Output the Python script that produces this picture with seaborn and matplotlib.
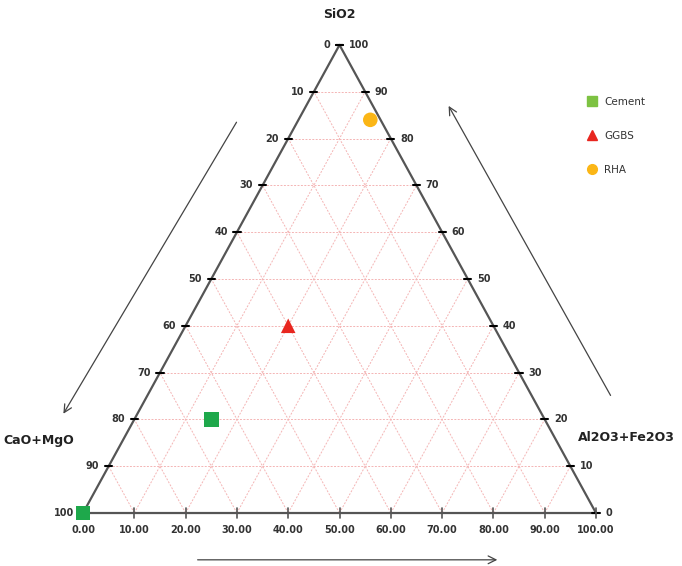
import numpy as np
import pandas as pd
import matplotlib
matplotlib.use("Agg")
import matplotlib.pyplot as plt
from matplotlib.lines import Line2D
import seaborn as sns

# ternary composition (%)
materials = ["Cement", "Cement", "GGBS", "RHA"]
sio2 = [0, 20, 40, 84]
al_fe = [0, 15, 20, 14]
cao_mgo = [100, 65, 40, 2]

steps = list(range(0, 101, 10))
left_labels = [str(100 - v) for v in steps]      # CaO+MgO, along left edge by SiO2 level
right_labels = [str(v) for v in steps]           # SiO2, along right edge
bottom_labels = [f"{v:.2f}" for v in steps]      # Al2O3+Fe2O3

colors = {"Cement": "#1ea84b", "GGBS": "#e8261f", "RHA": "#fbb616"}
legend_colors = {"Cement": "#7dc242", "GGBS": "#e8261f", "RHA": "#fbb616"}
markers = {"Cement": "s", "GGBS": "^", "RHA": "o"}


def to_xy(si, al):
    return np.asarray(al) + np.asarray(si) / 2.0, np.asarray(si)


df = pd.DataFrame({"Material": materials, "SiO2": sio2,
                   "Al2O3+Fe2O3": al_fe, "CaO+MgO": cao_mgo})
df["x"], df["y"] = to_xy(df["SiO2"], df["Al2O3+Fe2O3"])

sns.set_style("white")
fig = plt.figure(figsize=(6.82, 5.66), dpi=100)
ax = fig.add_axes([0, 0, 1, 1])
ax.set_xlim(-16.18, 116.76)
ax.set_ylim(-11.32, 109.6)
ax.axis("off")

grid_kw = dict(color="#f4b4b4", lw=0.7, ls=(0, (2, 1.5)), zorder=1)
for v in steps[1:-1]:
    ax.plot([v / 2, 100 - v / 2], [v, v], **grid_kw)
    ax.plot([v, v + (100 - v) / 2], [0, 100 - v], **grid_kw)
    ax.plot([100 - v, (100 - v) / 2], [0, 100 - v], **grid_kw)

ax.plot([0, 100, 50, 0], [0, 0, 100, 0], color="#555555", lw=1.6, zorder=2)

tick_font = dict(fontsize=7, color="#333333", fontweight="bold")
for s, lab in zip(steps, left_labels):
    x, y = s / 2, s
    ax.plot([x - 0.7, x + 0.7], [y, y], color="black", lw=1.5, zorder=3)
    ax.text(x - 1.8, y, lab, ha="right", va="center", **tick_font)
for s, lab in zip(steps, right_labels):
    x, y = 100 - s / 2, s
    ax.plot([x - 0.7, x + 0.7], [y, y], color="black", lw=1.5, zorder=3)
    ax.text(x + 1.8, y, lab, ha="left", va="center", **tick_font)
for v, lab in zip(steps, bottom_labels):
    ax.plot([v, v], [-1.0, 1.0], color="#555555", lw=1.2, zorder=3)
    ax.text(v, -3.6, lab, ha="center", va="center", **tick_font)

sns.scatterplot(data=df, x="x", y="y", hue="Material", style="Material",
                palette=colors, markers=markers, s=110, edgecolor="none",
                legend=False, ax=ax, zorder=5, clip_on=False)

title_font = dict(fontsize=9, fontweight="bold", color="#222222")
ax.text(50, 106.5, "SiO2", ha="center", va="center", **title_font)
ax.text(-15.6, 15.5, "CaO+MgO", ha="left", va="center", **title_font)
ax.text(96.5, 16.2, "Al2O3+Fe2O3", ha="left", va="center", **title_font)

arrow_kw = dict(arrowstyle="->", color="#444444", lw=0.9, mutation_scale=14)
ax.annotate("", xy=(-4.1, 20.7), xytext=(30.2, 84.0), arrowprops=arrow_kw)
ax.annotate("", xy=(71.0, 87.5), xytext=(103.1, 24.6), arrowprops=arrow_kw)
ax.annotate("", xy=(81.3, -10.0), xytext=(21.8, -10.0), arrowprops=arrow_kw)

handles = [Line2D([], [], marker=markers[m], color=legend_colors[m], ls="none",
                  markersize=7) for m in ["Cement", "GGBS", "RHA"]]
leg = ax.legend(handles, ["Cement", "GGBS", "RHA"], loc="upper left",
                bbox_to_anchor=(0.845, 0.845), frameon=False, fontsize=7.5,
                labelspacing=2.3, handletextpad=0.6, handlelength=1.2)
for t in leg.get_texts():
    t.set_color("#333333")

fig.savefig("out.png", dpi=100)
